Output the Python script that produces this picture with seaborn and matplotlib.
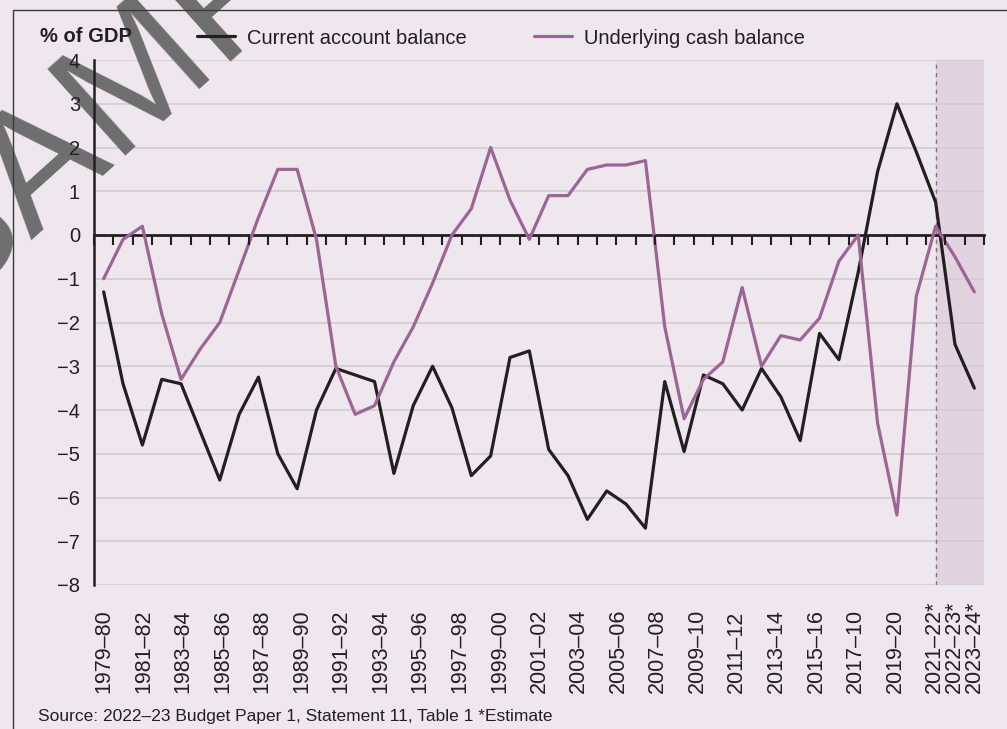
import numpy as np
import pandas as pd
import matplotlib
matplotlib.use("Agg")
import matplotlib.pyplot as plt
import seaborn as sns
from matplotlib.patches import Rectangle

# ---- data (% of GDP) -------------------------------------------------------
current_account = [-1.3, -3.4, -4.8, -3.3, -3.4, -4.5, -5.6, -4.1, -3.25, -5.0,
                   -5.8, -4.0, -3.05, -3.2, -3.35, -5.45, -3.9, -3.0, -3.95, -5.5,
                   -5.05, -2.8, -2.65, -4.9, -5.5, -6.5, -5.85, -6.15, -6.7, -3.35,
                   -4.95, -3.2, -3.4, -4.0, -3.05, -3.7, -4.7, -2.25, -2.85, -0.85,
                   1.45, 3.0, 1.9, 0.75, -2.5, -3.5]
underlying_cash = [-1.0, -0.1, 0.2, -1.8, -3.3, -2.6, -2.0, -0.8, 0.4, 1.5,
                   1.5, -0.1, -3.0, -4.1, -3.9, -2.9, -2.1, -1.1, 0.0, 0.6,
                   2.0, 0.8, -0.1, 0.9, 0.9, 1.5, 1.6, 1.6, 1.7, -2.1,
                   -4.2, -3.3, -2.9, -1.2, -3.0, -2.3, -2.4, -1.9, -0.6, 0.0,
                   -4.3, -6.4, -1.4, 0.2, -0.5, -1.3]
series_names = ["Current account balance", "Underlying cash balance"]

# financial-year categories along the bottom axis
fiscal_years = ["1979–80", "1980–81", "1981–82", "1982–83", "1983–84", "1984–85",
                "1985–86", "1986–87", "1987–88", "1988–89", "1989–90", "1990–91",
                "1991–92", "1992–93", "1993–94", "1994–95", "1995–96", "1996–97",
                "1997–98", "1998–99", "1999–00", "2000–01", "2001–02", "2002–03",
                "2003–04", "2004–05", "2005–06", "2006–07", "2007–08", "2008–09",
                "2009–10", "2010–11", "2011–12", "2012–13", "2013–14", "2014–15",
                "2015–16", "2016–17", "2017–10", "2018–19", "2019–20", "2020–21",
                "2021–22*", "2022–23*", "2023–24*"]
estimate_start = 43          # first estimated period (index into the series)
y_ticks = list(range(-8, 5))

# ---- style -----------------------------------------------------------------
BG = "#EEE7EE"
SHADE = "#E1D3DF"
GRID = "#D3CDD4"
INK = "#231F20"
PURPLE = "#9C6596"

sns.set_style("white")
plt.rcParams["font.family"] = ["Liberation Sans", "DejaVu Sans"]
plt.rcParams["font.size"] = 14.5

df = pd.DataFrame({
    "period": np.tile(np.arange(len(current_account)), 2),
    "value": current_account + underlying_cash,
    "series": np.repeat(series_names, len(current_account)),
})

fig = plt.figure(figsize=(10.07, 7.29), dpi=100, facecolor=BG)
ax = fig.add_axes([94 / 1007, (729 - 585) / 729, 890 / 1007, 525 / 729])
ax.set_facecolor(BG)

n = len(current_account)
ax.set_xlim(-0.5, n - 0.5)
ax.set_ylim(-8, 4)

# estimate period shading and divider
ax.axvspan(estimate_start, n - 0.5, color=SHADE, zorder=0, lw=0)
ax.axvline(estimate_start, color="#7a7a7a", lw=1.0, ls=(0, (3, 3)), zorder=1.5)

# horizontal gridlines
for yv in y_ticks:
    if yv != 0:
        ax.axhline(yv, color=GRID, lw=1.3, zorder=1)

sns.lineplot(data=df, x="period", y="value", hue="series",
             palette={series_names[0]: INK, series_names[1]: PURPLE},
             linewidth=2.3, ax=ax, zorder=3, legend=True)

# spines: left axis and a zero line carrying the category boundary ticks
for side in ["top", "right"]:
    ax.spines[side].set_visible(False)
ax.spines["left"].set_linewidth(1.8)
ax.spines["left"].set_color(INK)
ax.spines["bottom"].set_position(("data", 0))
ax.spines["bottom"].set_linewidth(2.0)
ax.spines["bottom"].set_color(INK)
ax.spines["bottom"].set_zorder(2.5)

ax.set_yticks(y_ticks)
ax.tick_params(axis="y", direction="in", length=10, width=1.8, color=INK,
               pad=10, labelsize=14.5, labelcolor=INK)
ax.yaxis.set_zorder(3)
ax.set_xticks(np.arange(-0.5, n, 1.0))
ax.tick_params(axis="x", direction="out", length=7, width=1.5, color=INK,
               labelbottom=False)
ax.xaxis.set_zorder(3)
ax.set_xlabel("")
ax.set_ylabel("")

# category labels on a companion axis
ax2 = ax.twiny()
ax2.set_xlim(-0.5, len(fiscal_years) - 0.5)
ax2.xaxis.set_ticks_position("bottom")
ax2.xaxis.set_label_position("bottom")
for side in ax2.spines:
    ax2.spines[side].set_visible(False)
shown = [i for i, _ in enumerate(fiscal_years) if i % 2 == 0 or fiscal_years[i].endswith("*")]
ax2.set_xticks(shown)
ax2.set_xticklabels([fiscal_years[i] for i in shown])
ax2.tick_params(axis="x", length=0, pad=78, labelsize=15.5, labelcolor=INK)
for lbl in ax2.get_xticklabels():
    lbl.set_rotation(90)
    lbl.set_rotation_mode("anchor")
    lbl.set_ha("left")
    lbl.set_va("center")

# legend above the plot area
handles, labels = ax.get_legend_handles_labels()
leg = ax.legend(handles, labels, ncol=2, frameon=False, loc="center left",
                bbox_to_anchor=(197 / 1007, 1 - 38 / 729), bbox_transform=fig.transFigure,
                borderaxespad=0, borderpad=0, handlelength=1.9, handletextpad=0.6,
                columnspacing=3.3, fontsize=14.5)
leg.set_zorder(6)
for line in leg.get_lines():
    line.set_linewidth(2.3)
for txt in leg.get_texts():
    txt.set_color(INK)

# watermark: above the gridlines, beneath the series, axes and text
ax.text(172 / 1007, 1 - 48 / 729, "SAMPLE", transform=fig.transFigure,
        fontsize=122, rotation=42, color="#6e6e6e", ha="center", va="center",
        zorder=2, clip_on=False)

fig.text(40 / 1007, 1 - 37 / 729, "% of GDP", fontsize=14.5, fontweight="bold",
         color=INK, va="center", ha="left", zorder=5)
fig.text(38 / 1007, 1 - 716 / 729,
         "Source: 2022–23 Budget Paper 1, Statement 11, Table 1 *Estimate",
         fontsize=12.5, color=INK, va="center", ha="left")

# outer panel frame
fig.patches.append(Rectangle((13 / 1007, -0.2), 1.5, 1.2 - 10 / 729,
                             transform=fig.transFigure, fill=False,
                             ec="#3a3a3a", lw=1.0, zorder=10))

fig.savefig("out.png", dpi=100, facecolor=BG)
